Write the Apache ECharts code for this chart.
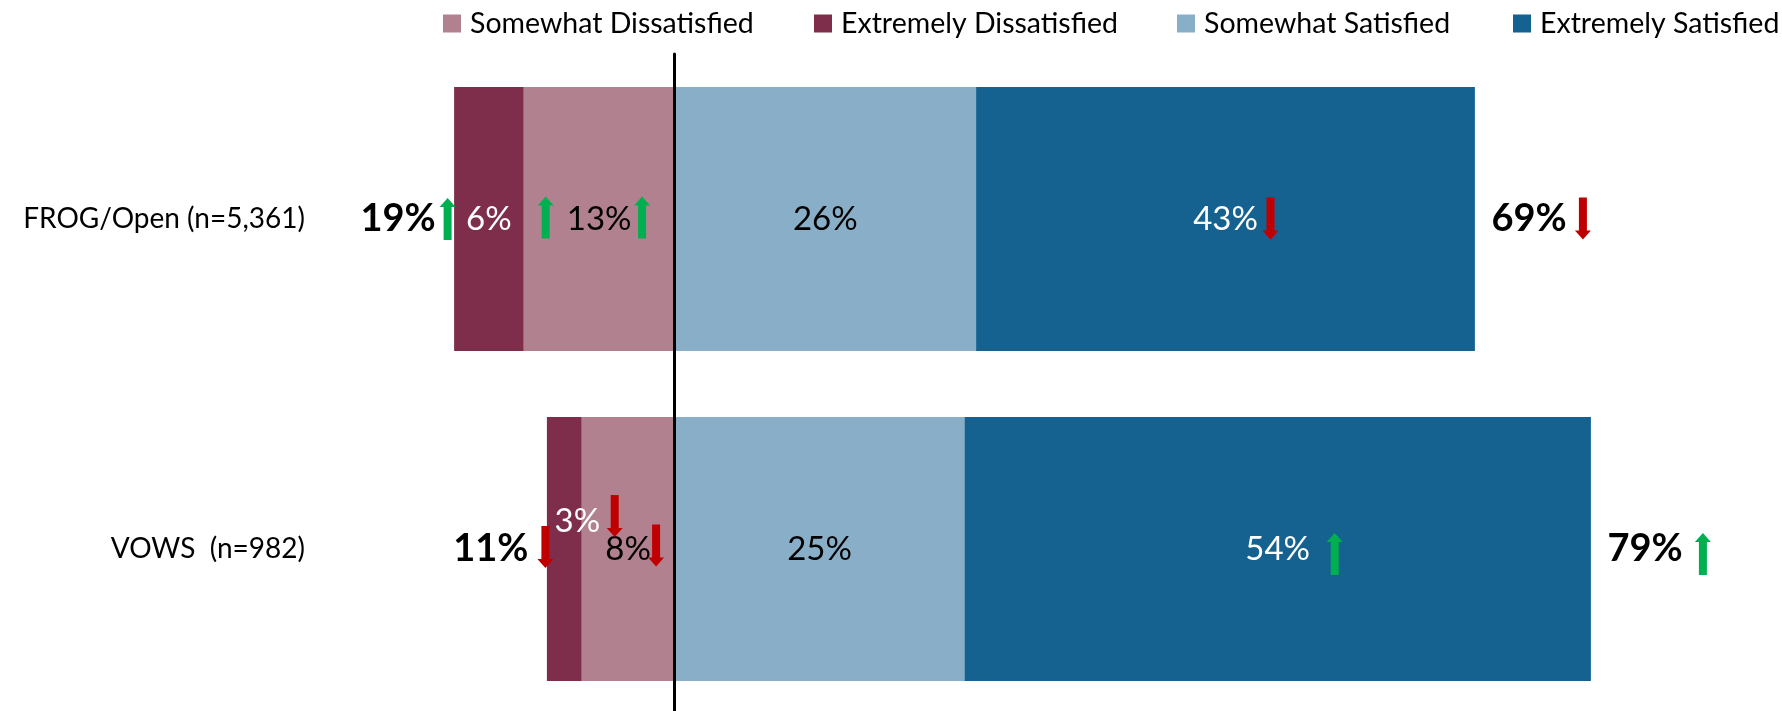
<!DOCTYPE html>
<html>
<head>
<meta charset="utf-8">
<script src="https://cdn.jsdelivr.net/npm/echarts@6/dist/echarts.min.js"></script>
<style>
  html, body { margin: 0; padding: 0; background: #ffffff; }
  #chart { width: 1782px; height: 711px; }
</style>
</head>
<body>
<div id="chart"></div>
<script>
// Satisfaction by programme, percentages of respondents
const categories = ['FROG/Open (n=5,361)', 'VOWS  (n=982)'];
const seriesNames = ['Somewhat Dissatisfied', 'Extremely Dissatisfied', 'Somewhat Satisfied', 'Extremely Satisfied'];
const somewhatDissatisfied = [13, 8];
const extremelyDissatisfied = [6, 3];
const somewhatSatisfied = [26, 25];
const extremelySatisfied = [43, 54];
const totalDissatisfied = [19, 11];
const totalSatisfied = [69, 79];

// Direction of change for each figure: 1 = up, -1 = down
const trendTotalDissatisfied = [1, -1];
const trendExtremelyDissatisfied = [1, -1];
const trendSomewhatDissatisfied = [1, -1];
const trendExtremelySatisfied = [-1, 1];
const trendTotalSatisfied = [-1, 1];

const COLORS = {
  somDis: '#b28190',
  extDis: '#7e2e4b',
  somSat: '#89afc8',
  extSat: '#156190',
  up: '#00b050',
  down: '#c00000'
};
const FONT = 'Lato, "Open Sans", sans-serif';

const ARROW_UP = 'path://M8,0 L16,9 L12,9 L12,42 L4,42 L4,9 L0,9 Z';
const ARROW_DOWN = 'path://M4,0 L12,0 L12,33 L16,33 L8,42 L0,33 L4,33 Z';

const pct = v => Math.abs(v) + '%';

function segment(name, values, sign, color, labelColor, extra) {
  return {
    name: name,
    type: 'bar',
    stack: 'share',
    barWidth: 264,
    itemStyle: { color: color },
    label: {
      show: true,
      position: 'inside',
      color: labelColor,
      fontFamily: FONT,
      fontSize: 33,
      formatter: p => pct(p.value)
    },
    emphasis: { disabled: true },
    data: values.map((v, i) => Object.assign({ value: sign * v }, extra ? extra[i] : {}))
  };
}

// Trend arrows: anchored at a value on the bar, nudged in pixels next to its figure
function arrowItems(trend, anchors, nudges) {
  return trend.map((t, i) => ({
    value: [anchors[i], i],
    symbol: t > 0 ? ARROW_UP : ARROW_DOWN,
    symbolOffset: nudges[i],
    itemStyle: { color: t > 0 ? COLORS.up : COLORS.down, opacity: 1 }
  }));
}

const arrowData = [].concat(
  arrowItems(trendTotalDissatisfied, totalDissatisfied.map(v => -v), [[-6.5, 0], [-1.5, -2]]),
  arrowItems(trendExtremelyDissatisfied, somewhatDissatisfied.map(v => -v), [[22, -1.5], [33, -33]]),
  arrowItems(trendSomewhatDissatisfied, somewhatDissatisfied.map(v => -v / 2), [[43, -1.5], [28, -3.5]]),
  arrowItems(trendExtremelySatisfied, somewhatSatisfied.map((v, i) => v + extremelySatisfied[i] / 2), [[45, -0.5], [57, 5]]),
  arrowItems(trendTotalSatisfied, totalSatisfied, [[108, -0.5], [112, 5]])
);

const totalsLabel = {
  show: true,
  color: '#000000',
  fontFamily: FONT,
  fontSize: 38,
  fontWeight: 'bold'
};

const legendLeft = [438, 809, 1172, 1508];
const legendColors = [COLORS.somDis, COLORS.extDis, COLORS.somSat, COLORS.extSat];

const option = {
  animation: false,
  backgroundColor: '#ffffff',
  color: legendColors,
  legend: seriesNames.map((name, i) => ({
    data: [name],
    left: legendLeft[i],
    top: 4,
    icon: 'rect',
    itemWidth: 18,
    itemHeight: 18,
    selectedMode: false,
    textStyle: {
      color: '#000000',
      fontFamily: FONT,
      fontSize: 28.5,
      padding: [0, 0, 0, 4]
    }
  })),
  grid: { left: 442.5, width: 1160, top: 54, height: 660, containLabel: false, outerBoundsMode: 'none' },
  xAxis: {
    type: 'value',
    min: -20,
    max: 80,
    show: false
  },
  yAxis: {
    type: 'category',
    inverse: true,
    data: categories,
    z: 10,
    axisLine: { show: true, onZero: true, lineStyle: { color: '#000000', width: 3 } },
    axisTick: { show: false },
    axisLabel: {
      margin: 137.5,
      color: '#000000',
      fontFamily: FONT,
      fontSize: 28
    }
  },
  series: [
    segment(seriesNames[0], somewhatDissatisfied, -1, COLORS.somDis, '#000000'),
    segment(seriesNames[1], extremelyDissatisfied, -1, COLORS.extDis, '#ffffff',
      [{}, { label: { offset: [13, -28] } }]),
    segment(seriesNames[2], somewhatSatisfied, 1, COLORS.somSat, '#000000'),
    segment(seriesNames[3], extremelySatisfied, 1, COLORS.extSat, '#ffffff'),
    {
      name: 'Total dissatisfied',
      type: 'scatter',
      symbolSize: 1,
      itemStyle: { color: 'transparent', opacity: 1 },
      clip: false,
      silent: true,
      z: 5,
      label: Object.assign({ position: 'left', distance: 18, formatter: p => totalDissatisfied[p.dataIndex] + '%' }, totalsLabel),
      data: totalDissatisfied.map((v, i) => [-v, i])
    },
    {
      name: 'Total satisfied',
      type: 'scatter',
      symbolSize: 1,
      itemStyle: { color: 'transparent', opacity: 1 },
      clip: false,
      silent: true,
      z: 5,
      label: Object.assign({ position: 'right', distance: 16, formatter: p => totalSatisfied[p.dataIndex] + '%' }, totalsLabel),
      data: totalSatisfied.map((v, i) => [v, i])
    },
    {
      name: 'Change',
      type: 'scatter',
      symbolSize: [16, 42],
      clip: false,
      silent: true,
      z: 6,
      itemStyle: { opacity: 1 },
      data: arrowData
    }
  ]
};

const chart = echarts.init(document.getElementById('chart'), null, { renderer: 'canvas' });
chart.setOption(option);
</script>
</body>
</html>
